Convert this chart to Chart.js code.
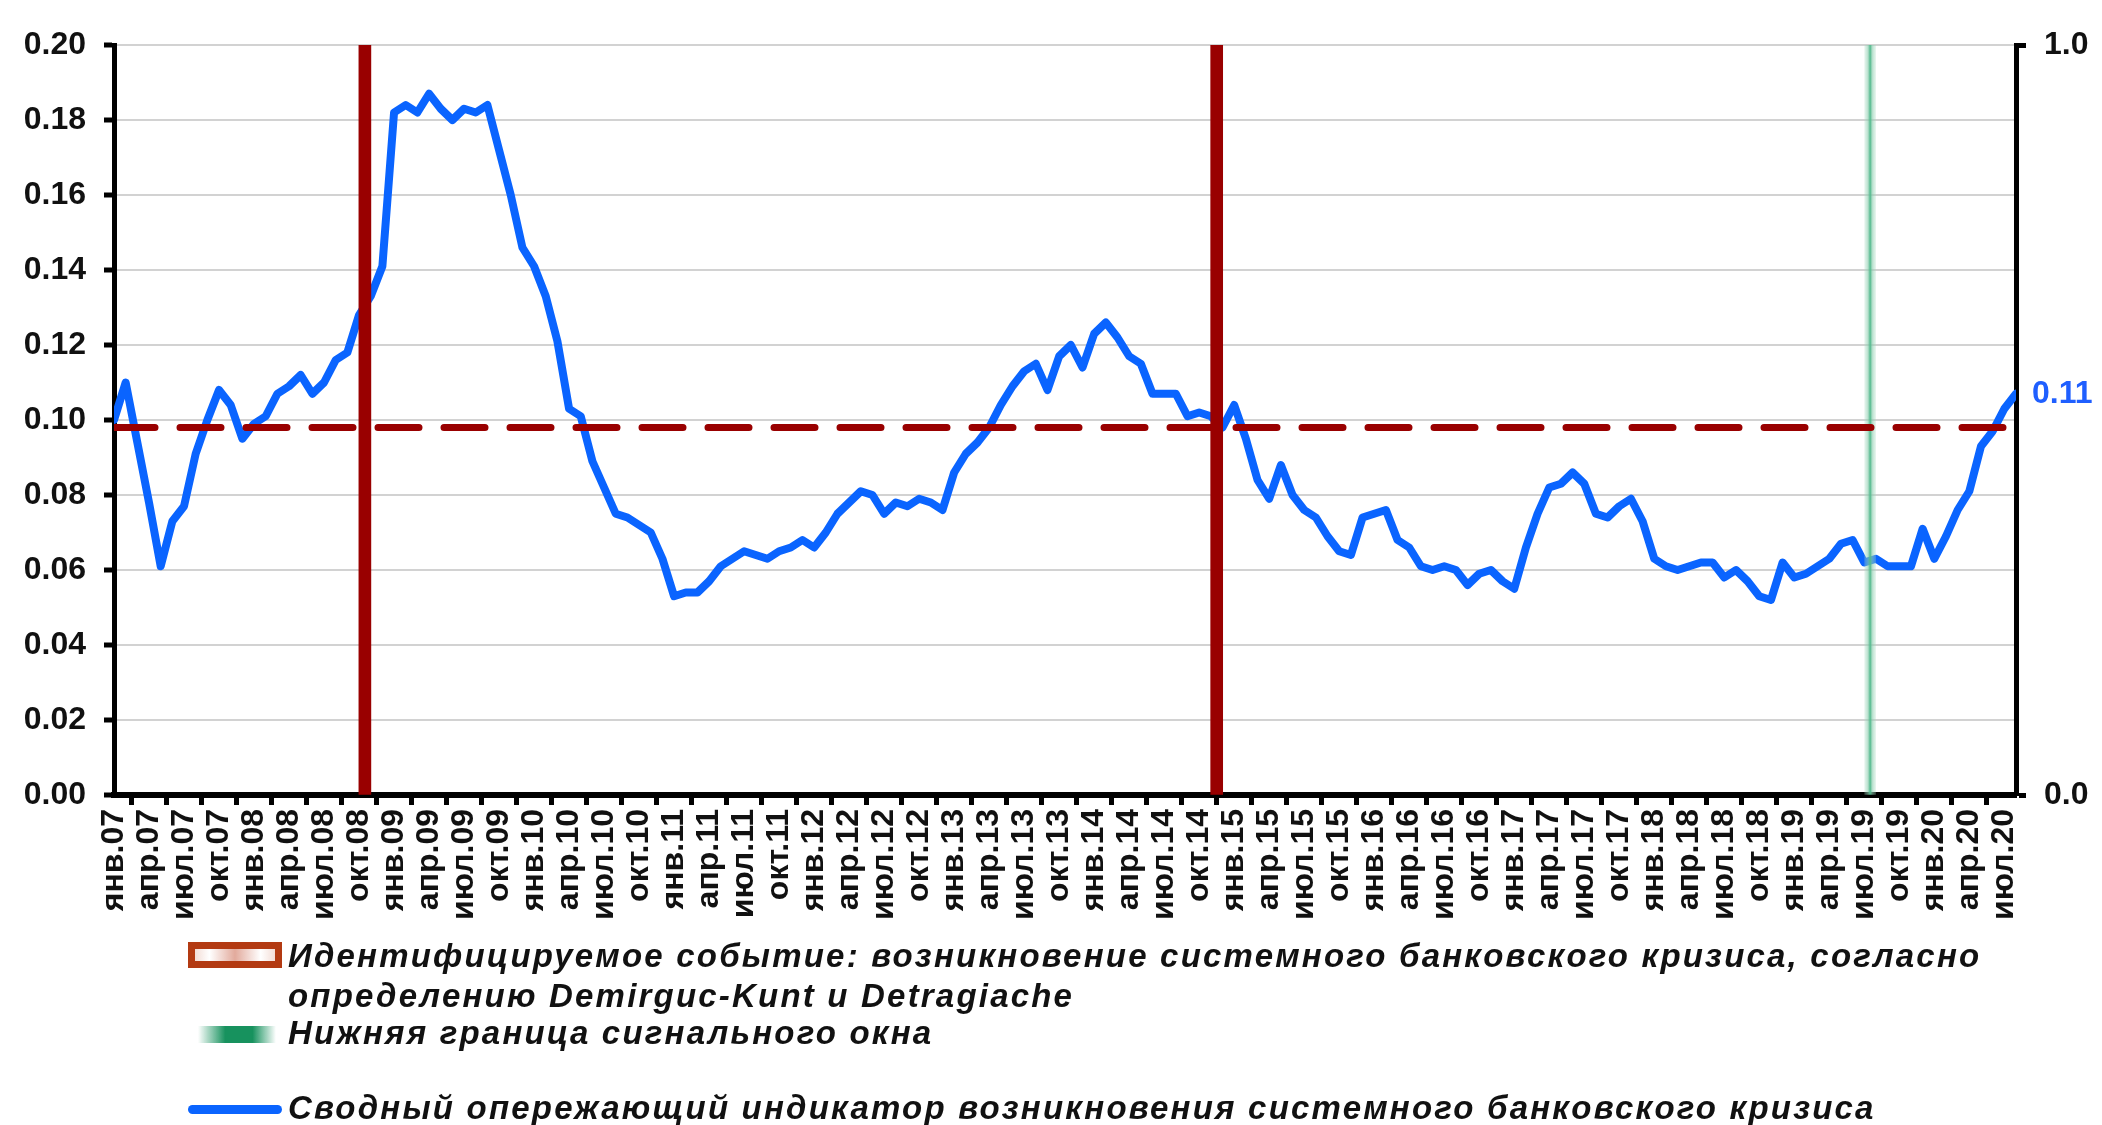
<!DOCTYPE html>
<html lang="ru">
<head>
<meta charset="utf-8">
<title>Сводный опережающий индикатор возникновения системного банковского кризиса</title>
<script src="https://cdn.jsdelivr.net/npm/chart.js@4.4.1/dist/chart.umd.min.js"></script>
<style>
  html, body { margin: 0; padding: 0; background: #fff; }
  #wrap { position: relative; width: 2102px; height: 1125px; overflow: hidden; }
  #chart { position: absolute; left: 0; top: 0; }
  .row {
    position: absolute; left: 288px; height: 40px; line-height: 40px;
    font: italic bold 33px "Liberation Sans", Arial, sans-serif;
    letter-spacing: 2.2px; color: #111; white-space: nowrap;
  }
  .sym { position: absolute; box-sizing: border-box; }
  #sym-crisis {
    left: 188px; top: 942px; width: 94px; height: 26px;
    border: 7px solid #b33a12;
    background: linear-gradient(90deg, #f3ddd6, #fff 18%, #e2aa9c 50%, #fff 82%, #f3ddd6);
  }
  #sym-window {
    left: 198px; top: 1026px; width: 78px; height: 17px;
    background: linear-gradient(90deg, rgba(255,255,255,0), #17925e 35%, #17925e 70%, rgba(255,255,255,0));
  }
  #sym-index {
    left: 188px; top: 1105px; width: 94px; height: 9px; border-radius: 4.5px;
    background: #0a64ff;
  }
</style>
</head>
<body>
<div id="wrap">
  <canvas id="chart" width="2102" height="1125"></canvas>
  <div class="sym" id="sym-crisis"></div>
  <div class="row" style="top: 937px;">Идентифицируемое событие: возникновение системного банковского кризиса, согласно</div>
  <div class="row" style="top: 977px;">определению Demirguc-Kunt и Detragiache</div>
  <div class="sym" id="sym-window"></div>
  <div class="row" style="top: 1014px;">Нижняя граница сигнального окна</div>
  <div class="sym" id="sym-index"></div>
  <div class="row" style="top: 1089px;">Сводный опережающий индикатор возникновения системного банковского кризиса</div>
</div>
<script>
// months янв.07 .. авг.20, one value per month
const monthNames = ['янв', 'фев', 'мар', 'апр', 'май', 'июн', 'июл', 'авг', 'сен', 'окт', 'ноя', 'дек'];
const years = ['07', '08', '09', '10', '11', '12', '13', '14', '15', '16', '17', '18', '19', '20'];
const lastMonthOf2020 = 8;

const monthLabels = [];
years.forEach((yy, k) => {
  const n = k === years.length - 1 ? lastMonthOf2020 : 12;
  for (let m = 0; m < n; m++) monthLabels.push(`${monthNames[m]}.${yy}`);
});

// a label every 3rd month
const labelEvery = 3;

// composite leading indicator
const indicator = [
  0.100, 0.110, 0.094, 0.078, 0.061, 0.073, 0.077, 0.091, 0.100, 0.108, 0.104, 0.095, // 2007
  0.099, 0.101, 0.107, 0.109, 0.112, 0.107, 0.110, 0.116, 0.118, 0.128, 0.133, 0.141, // 2008
  0.182, 0.184, 0.182, 0.187, 0.183, 0.180, 0.183, 0.182, 0.184, 0.172, 0.160, 0.146, // 2009
  0.141, 0.133, 0.121, 0.103, 0.101, 0.089, 0.082, 0.075, 0.074, 0.072, 0.070, 0.063, // 2010
  0.053, 0.054, 0.054, 0.057, 0.061, 0.063, 0.065, 0.064, 0.063, 0.065, 0.066, 0.068, // 2011
  0.066, 0.070, 0.075, 0.078, 0.081, 0.080, 0.075, 0.078, 0.077, 0.079, 0.078, 0.076, // 2012
  0.086, 0.091, 0.094, 0.098, 0.104, 0.109, 0.113, 0.115, 0.108, 0.117, 0.120, 0.114, // 2013
  0.123, 0.126, 0.122, 0.117, 0.115, 0.107, 0.107, 0.107, 0.101, 0.102, 0.101, 0.098, // 2014
  0.104, 0.095, 0.084, 0.079, 0.088, 0.080, 0.076, 0.074, 0.069, 0.065, 0.064, 0.074, // 2015
  0.075, 0.076, 0.068, 0.066, 0.061, 0.060, 0.061, 0.060, 0.056, 0.059, 0.060, 0.057, // 2016
  0.055, 0.066, 0.075, 0.082, 0.083, 0.086, 0.083, 0.075, 0.074, 0.077, 0.079, 0.073, // 2017
  0.063, 0.061, 0.060, 0.061, 0.062, 0.062, 0.058, 0.060, 0.057, 0.053, 0.052, 0.062, // 2018
  0.058, 0.059, 0.061, 0.063, 0.067, 0.068, 0.062, 0.063, 0.061, 0.061, 0.061, 0.071, // 2019
  0.063, 0.069, 0.076, 0.081, 0.093, 0.097, 0.103, 0.107                              // 2020
];

const threshold = 0.098;

// event months, drawn as bars on the right 0..1 axis
const crisisMonths = ['окт.08', 'ноя.14'];
const signalWindowMonths = ['июл.19'];

const leftTicks = { min: 0, max: 0.2, step: 0.02 };
const rightTicks = { min: 0, max: 1, step: 1 };

const FONT = '"Liberation Sans", Arial, sans-serif';
const BLUE = '#0a64ff';
const DARK_RED = '#990000';

// bar sits in the middle of its month, as on a secondary category axis
const eventBars = (months) => months.map((m) => ({ x: monthLabels.indexOf(m) + 0.5, y: 1 }));

const lastValueLabel = {
  id: 'lastValueLabel',
  afterDatasetsDraw(chart) {
    const { ctx, chartArea, scales } = chart;
    const last = indicator[indicator.length - 1];
    ctx.save();
    ctx.font = `bold 32px ${FONT}`;
    ctx.fillStyle = '#1f5fff';
    ctx.textBaseline = 'middle';
    ctx.textAlign = 'left';
    ctx.fillText(last.toFixed(2), chartArea.right + 16, scales.y.getPixelForValue(last));
    ctx.restore();
  },
};

new Chart(document.getElementById('chart'), {
  type: 'line',
  data: {
    datasets: [
      {
        type: 'bar',
        label: 'Идентифицируемое событие',
        data: eventBars(crisisMonths),
        yAxisID: 'y2',
        backgroundColor: DARK_RED,
        barThickness: 12,
        grouped: false,
        order: 0,
      },
      {
        type: 'line',
        label: 'Порог',
        data: [{ x: 0, y: threshold }, { x: monthLabels.length - 1, y: threshold }],
        borderColor: DARK_RED,
        borderWidth: 7,
        borderDash: [41, 25],
        borderCapStyle: 'round',
        pointRadius: 0,
        order: 1,
      },
      {
        type: 'bar',
        label: 'Нижняя граница сигнального окна',
        data: eventBars(signalWindowMonths),
        yAxisID: 'y2',
        barThickness: 11,
        grouped: false,
        backgroundColor: (c) => {
          const chart = c.chart;
          if (!chart.chartArea || !c.raw) return '#6cc39c';
          const x = chart.scales.x.getPixelForValue(c.raw.x);
          const g = chart.ctx.createLinearGradient(x - 6, 0, x + 6, 0);
          g.addColorStop(0, 'rgba(170,220,195,0.25)');
          g.addColorStop(0.3, 'rgba(140,205,175,0.6)');
          g.addColorStop(0.5, '#4fb98b');
          g.addColorStop(0.7, 'rgba(140,205,175,0.6)');
          g.addColorStop(1, 'rgba(170,220,195,0.25)');
          return g;
        },
        order: 2,
      },
      {
        type: 'line',
        label: 'Сводный опережающий индикатор',
        data: indicator.map((v, i) => ({ x: i, y: v })),
        borderColor: BLUE,
        borderWidth: 8,
        borderJoinStyle: 'round',
        borderCapStyle: 'round',
        pointRadius: 0,
        tension: 0,
        order: 3,
      },
    ],
  },
  options: {
    responsive: false,
    animation: false,
    layout: { padding: { top: 45, left: 0, right: 0, bottom: 0 } },
    plugins: {
      legend: { display: false },
      tooltip: { enabled: false },
    },
    scales: {
      x: {
        type: 'linear',
        min: 0,
        max: monthLabels.length - 1,
        offset: false,
        afterBuildTicks: (s) => {
          s.ticks = monthLabels
            .map((_, i) => i)
            .filter((i) => i % labelEvery === 0)
            .map((i) => ({ value: i }));
        },
        afterFit: (s) => {
          s.height = 330;
        },
        ticks: {
          autoSkip: false,
          minRotation: 90,
          maxRotation: 90,
          padding: 4,
          color: '#111',
          font: { family: FONT, size: 32, weight: 'bold' },
          callback: (v) => monthLabels[v],
        },
        grid: { drawOnChartArea: false, tickColor: '#000', tickWidth: 5, tickLength: 10 },
        border: { color: '#000', width: 6 },
      },
      y: {
        position: 'left',
        min: leftTicks.min,
        max: leftTicks.max,
        afterFit: (s) => {
          s.width = 114;
        },
        ticks: {
          stepSize: leftTicks.step,
          padding: 18,
          color: '#111',
          font: { family: FONT, size: 32, weight: 'bold' },
          callback: (v) => v.toFixed(2),
        },
        grid: { color: '#d2d2d2', lineWidth: 2, tickColor: '#000', tickWidth: 5, tickLength: 10 },
        border: { color: '#000', width: 5 },
      },
      y2: {
        position: 'right',
        min: rightTicks.min,
        max: rightTicks.max,
        afterFit: (s) => {
          s.width = 86;
        },
        ticks: {
          stepSize: rightTicks.step,
          padding: 18,
          color: '#111',
          font: { family: FONT, size: 32, weight: 'bold' },
          callback: (v) => v.toFixed(1),
        },
        grid: { drawOnChartArea: false, tickColor: '#000', tickWidth: 5, tickLength: 10 },
        border: { color: '#000', width: 5 },
      },
    },
  },
  plugins: [lastValueLabel],
});
</script>
</body>
</html>
